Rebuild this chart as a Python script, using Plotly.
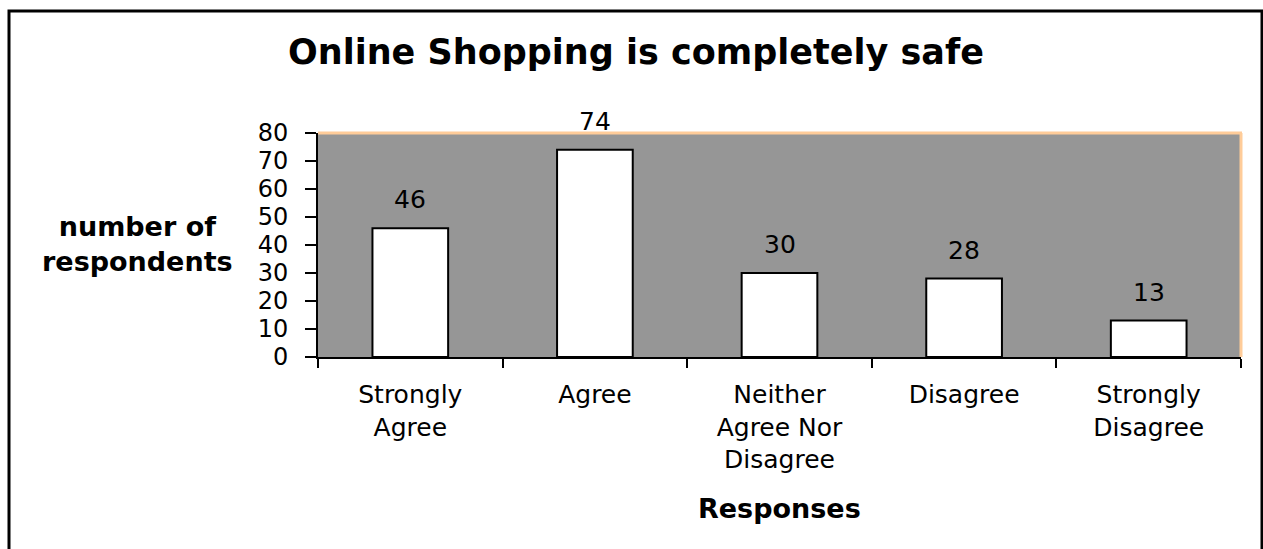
import plotly.graph_objects as go

# Survey responses to "Online Shopping is completely safe"
categories = ["Strongly<br>Agree", "Agree", "Neither<br>Agree Nor<br>Disagree",
              "Disagree", "Strongly<br>Disagree"]
respondents = [46, 74, 30, 28, 13]
y_ticks = [0, 10, 20, 30, 40, 50, 60, 70, 80]

W, H = 1263, 549
FONT = "DejaVu Sans"

# pixel -> paper helpers (margins are zero, so paper spans the whole page)
def px(x):
    return x / W

def py(y):
    return 1 - y / H

plot_left, plot_right, plot_top, plot_bottom = 318, 1241, 133, 357

fig = go.Figure()
fig.add_trace(go.Bar(
    x=categories,
    y=respondents,
    width=0.41,
    marker=dict(color="white", line=dict(color="black", width=2)),
    hoverinfo="x+y",
))

annotations = []
# value labels above each bar
for c, v in zip(categories, respondents):
    annotations.append(dict(
        x=c, y=v, xref="x", yref="y", text=str(v), showarrow=False,
        yanchor="bottom", yshift=12,
        font=dict(family=FONT, size=25, color="black"),
    ))

# chart title
annotations.append(dict(
    x=px(636), y=py(52), xref="paper", yref="paper",
    text="<b>Online Shopping is completely safe</b>", showarrow=False,
    xanchor="center", yanchor="middle",
    font=dict(family=FONT, size=35, color="black"),
))
# y axis title
annotations.append(dict(
    x=px(137), y=py(244), xref="paper", yref="paper",
    text="<b>number of<br>respondents</b>", showarrow=False,
    xanchor="center", yanchor="middle", align="center",
    font=dict(family=FONT, size=27, color="black"),
))
# x axis title
annotations.append(dict(
    x=px(780), y=py(508), xref="paper", yref="paper",
    text="<b>Responses</b>", showarrow=False,
    xanchor="center", yanchor="middle",
    font=dict(family=FONT, size=27, color="black"),
))

shapes = [
    # outer frame
    dict(type="rect", xref="paper", yref="paper",
         x0=px(9), x1=px(1262), y0=py(600), y1=py(11),
         line=dict(color="black", width=3), fillcolor="rgba(0,0,0,0)", layer="above"),
    # light orange edge along the top and right of the plot area
    dict(type="line", xref="paper", yref="paper",
         x0=px(plot_left), x1=px(plot_right + 1), y0=py(plot_top), y1=py(plot_top),
         line=dict(color="#FFCC99", width=3)),
    dict(type="line", xref="paper", yref="paper",
         x0=px(plot_right), x1=px(plot_right), y0=py(plot_top), y1=py(plot_bottom),
         line=dict(color="#FFCC99", width=3)),
]

fig.update_layout(
    width=W, height=H,
    margin=dict(l=0, r=0, t=0, b=0),
    paper_bgcolor="white",
    plot_bgcolor="#969696",
    showlegend=False,
    bargap=0.59,
    annotations=annotations,
    shapes=shapes,
    xaxis=dict(
        domain=[px(plot_left), px(plot_right)],
        type="category",
        range=[-0.5, 4.5],
        showline=True, linecolor="black", linewidth=2,
        ticks="outside", ticklen=9, tickwidth=2, tickcolor="black",
        tickson="boundaries",
        showgrid=False, zeroline=False,
        tickfont=dict(family=FONT, size=25, color="black"),
        ticklabelstandoff=14,
        automargin=False,
    ),
    yaxis=dict(
        domain=[py(plot_bottom), py(plot_top)],
        range=[0, 80],
        tickvals=y_ticks,
        showline=True, linecolor="black", linewidth=2,
        ticks="outside", ticklen=11, tickwidth=2, tickcolor="black",
        showgrid=False, zeroline=False,
        tickfont=dict(family=FONT, size=24, color="black"),
        ticklabelstandoff=12,
        automargin=False,
    ),
)

fig.write_html("out.html")
